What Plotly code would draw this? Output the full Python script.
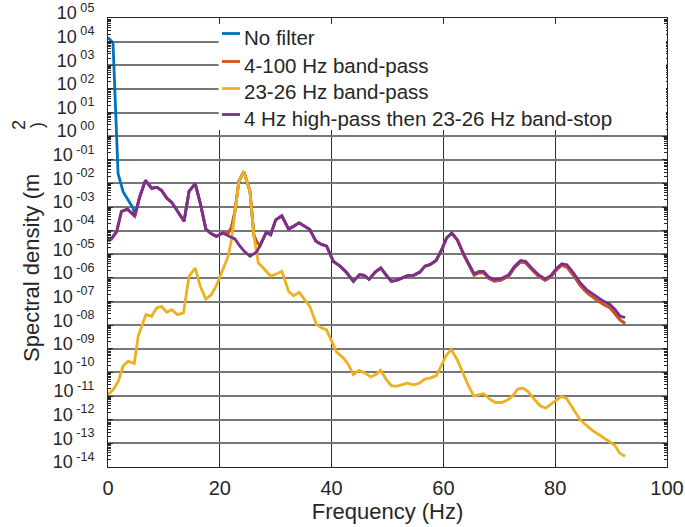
import numpy as np
import plotly.graph_objects as go

# Frequencies (Hz) and log10 spectral density (m^2) for each filter case
freq_none = [0, 0.9, 1.8, 2.7, 3.6, 4.5, 4.8, 5.7, 6.7, 7.8, 8.8, 9.6, 10.5, 11.4, 12.6, 13.6,
             14.5, 15.6, 16.5, 17.5, 18.5, 19.4, 20.5, 21.5, 22.1, 22.7, 23.4, 24.3, 25.4, 26.1,
             26.6, 27.2, 28.3, 29.1, 30.0, 31.1, 32.3, 33.2, 34.2, 35.2, 36.1, 37.2, 38.2, 39.1,
             40.3, 41.5, 42.6, 43.9, 45.0, 45.8, 46.7, 47.8, 48.8, 49.9, 50.7, 51.6, 52.8, 53.7,
             54.7, 55.8, 56.7, 57.6, 58.7, 59.7, 60.6, 61.5, 62.5, 63.7, 65.5, 66.4, 67.2, 68.1,
             69.1, 70.2, 71.7, 72.7, 73.8, 74.7, 75.8, 77.0, 78.2, 79.2, 80.3, 81.2, 82.1, 83.3,
             84.5, 85.6, 87.1, 88.6, 89.8, 90.7, 91.6, 92.5]
log_none = [4.18, 3.94, -1.58, -2.35, -2.7, -3.05, -3.34, -2.55, -1.87, -2.2, -2.17, -2.3, -2.62,
            -2.8, -3.23, -3.6, -2.34, -2.01, -2.83, -3.93, -4.13, -4.24, -4.1, -4.1, -3.85, -3.2,
            -1.92, -1.49, -2.34, -4.2, -4.47, -4.63, -4.07, -4.17, -3.54, -3.37, -3.93, -3.82,
            -3.67, -3.82, -3.95, -4.45, -4.58, -4.65, -5.3, -5.5, -5.75, -6.14, -5.86, -5.89,
            -6.06, -5.75, -5.58, -5.92, -6.14, -6.1, -5.96, -5.89, -5.89, -5.75, -5.5, -5.44,
            -5.26, -4.8, -4.3, -4.1, -4.4, -5.06, -5.88, -5.78, -5.78, -6.02, -6.13, -6.1, -5.92,
            -5.57, -5.32, -5.36, -5.64, -5.92, -6.1, -5.96, -5.64, -5.46, -5.54, -5.9, -6.32,
            -6.6, -6.88, -7.12, -7.26, -7.5, -7.78, -7.92]

freq_bp = [0, 0.65, 1.55, 2.4, 3.5, 4.8, 5.7, 6.7, 7.8, 8.8, 9.6, 10.5, 11.4, 12.6, 13.6, 14.5,
           15.6, 16.5, 17.5, 18.5, 19.4, 20.5, 21.5, 22.1, 22.7, 23.4, 24.3, 25.4, 26.1, 26.6,
           27.2, 28.3, 29.1, 30.0, 31.1, 32.3, 33.2, 34.2, 35.2, 36.1, 37.2, 38.2, 39.1, 40.3,
           41.5, 42.6, 43.9, 45.0, 45.8, 46.7, 47.8, 48.8, 49.9, 50.7, 51.6, 52.8, 53.7, 54.7,
           55.8, 56.7, 57.6, 58.7, 59.7, 60.6, 61.5, 62.5, 63.7, 65.5, 66.4, 67.2, 68.1, 69.1,
           70.2, 71.7, 72.7, 73.8, 74.7, 75.8, 77.0, 78.2, 79.2, 80.3, 81.2, 82.1, 83.3, 84.5,
           85.6, 87.1, 88.6, 89.8, 90.7, 91.6, 92.5]
log_bp = [-4.45, -4.36, -4.06, -3.2, -3.1, -3.39, -2.55, -1.87, -2.2, -2.17, -2.3, -2.62, -2.8,
          -3.23, -3.6, -2.34, -2.01, -2.83, -3.93, -4.13, -4.24, -4.1, -4.1, -3.85, -3.2, -1.92,
          -1.49, -2.34, -4.2, -4.47, -4.63, -4.07, -4.17, -3.54, -3.37, -3.93, -3.82, -3.67,
          -3.82, -3.95, -4.45, -4.58, -4.65, -5.3, -5.5, -5.75, -6.14, -5.86, -5.89, -6.06,
          -5.75, -5.58, -5.92, -6.14, -6.1, -5.96, -5.89, -5.89, -5.75, -5.5, -5.44, -5.26,
          -4.8, -4.3, -4.1, -4.4, -5.06, -5.88, -5.78, -5.78, -6.02, -6.13, -6.1, -5.92, -5.57,
          -5.32, -5.36, -5.64, -5.92, -6.1, -5.96, -5.64, -5.46, -5.54, -5.9, -6.32, -6.6,
          -6.88, -7.12, -7.26, -7.5, -7.78, -7.92]

freq_narrow = [0, 0.95, 1.85, 2.7, 3.6, 4.7, 5.4, 6.3, 6.8, 7.8, 8.7, 9.6, 10.5, 11.4, 12.4, 13.5,
               14.5, 15.6, 16.5, 17.5, 18.5, 19.4, 20.5, 21.5, 22.1, 22.7, 23.4, 24.3, 25.4, 26.1,
               26.9, 27.8, 29.1, 30.2, 31.1, 32.3, 33.2, 34.2, 35.2, 36.1, 37.3, 38.2, 39.1, 40.0,
               40.9, 42.1, 43.0, 43.9, 44.9, 45.95, 47.0, 47.9, 48.75, 49.8, 50.7, 51.6, 52.7,
               53.5, 54.6, 55.7, 56.7, 57.7, 58.75, 59.6, 60.5, 61.4, 62.4, 63.5, 64.4, 65.4, 66.4,
               67.2, 68.3, 69.3, 70.4, 71.4, 72.4, 73.3, 74.2, 75.1, 76.1, 77.3, 78.3, 79.3, 80.3,
               81.1, 82.0, 83.2, 84.4, 85.5, 86.7, 88.2, 89.7, 90.6, 91.5, 92.5]
log_narrow = [-10.93, -10.72, -10.37, -9.73, -9.52, -9.62, -8.46, -7.9, -7.55, -7.62, -7.27, -7.2,
              -7.45, -7.34, -7.55, -7.48, -5.93, -5.58, -6.35, -6.89, -6.7, -6.32, -5.65, -5.08,
              -4.38, -3.25, -1.92, -1.49, -2.34, -4.24, -5.37, -5.58, -5.93, -5.82, -5.72, -6.56,
              -6.75, -6.61, -6.92, -7.2, -7.97, -8.11, -8.2, -8.67, -9.14, -9.38, -9.67, -10.09,
              -9.91, -10.02, -10.19, -10.09, -9.91, -10.3, -10.56, -10.59, -10.52, -10.45,
              -10.52, -10.45, -10.28, -10.23, -10.13, -9.74, -9.28, -9.03, -9.43, -10.02, -10.52,
              -10.99, -10.94, -10.9, -11.13, -11.27, -11.27, -11.18, -10.99, -10.7, -10.66, -10.8,
              -11.09, -11.41, -11.51, -11.33, -11.13, -11.01, -11.09, -11.55, -11.98, -12.22,
              -12.46, -12.69, -12.93, -13.07, -13.4, -13.55]

freq_stop = freq_bp
log_stop = [-4.38, -4.31, -4.03, -3.18, -3.08, -3.39, -2.55, -1.87, -2.2, -2.17, -2.3, -2.62,
            -2.8, -3.23, -3.6, -2.34, -2.01, -2.83, -3.93, -4.13, -4.24, -4.1, -4.21, -4.28,
            -4.35, -4.59, -4.85, -5.08, -4.98, -4.9, -4.63, -4.07, -4.17, -3.54, -3.37, -3.93,
            -3.82, -3.67, -3.82, -3.95, -4.45, -4.58, -4.65, -5.3, -5.5, -5.75, -6.14, -5.86,
            -5.89, -6.06, -5.75, -5.58, -5.92, -6.14, -6.1, -5.96, -5.89, -5.89, -5.75, -5.5,
            -5.44, -5.26, -4.8, -4.3, -4.1, -4.38, -5.02, -5.82, -5.72, -5.72, -5.96, -6.07,
            -6.04, -5.86, -5.51, -5.26, -5.3, -5.58, -5.86, -6.04, -5.9, -5.58, -5.4, -5.44,
            -5.79, -6.21, -6.49, -6.74, -6.98, -7.12, -7.33, -7.61, -7.68]

series_names = ["No filter", "4-100 Hz band-pass", "23-26 Hz band-pass",
                "4 Hz high-pass then 23-26 Hz band-stop"]
series_colors = ["#0072BD", "#D95319", "#EDB120", "#7E2F8E"]
series_freq = [freq_none, freq_bp, freq_narrow, freq_stop]
series_log = [log_none, log_bp, log_narrow, log_stop]

decades = list(range(-14, 6))
tick_text = ["10<sup>&nbsp;" + (f"{k:02d}" if k >= 0 else f"-{abs(k):02d}") + "</sup>"
             for k in decades]
x_ticks = [0, 20, 40, 60, 80, 100]

FONT = "Liberation Sans, Arial, Helvetica, sans-serif"
INK = "#262626"

# plot-area geometry in pixels, used to place the key and the axis title pieces
W, H = 685, 527
ML, MR, MT, MB = 108, 18, 18, 60
PW, PH = W - ML - MR, H - MT - MB


def px_x(p):
    return (p - ML) / PW


def px_y(p):
    return (H - MB - p) / PH


fig = go.Figure()
for name, color, f, lg in zip(series_names, series_colors, series_freq, series_log):
    fig.add_trace(go.Scatter(
        x=f, y=np.power(10.0, np.array(lg)), mode="lines", name=name,
        line=dict(color=color, width=2.8), showlegend=False,
    ))

# white panel behind the key that hides the grid in the upper right
fig.add_shape(type="rect", xref="paper", yref="paper", x0=px_x(218.6), x1=px_x(666),
              y0=px_y(130), y1=px_y(24), fillcolor="#ffffff",
              line=dict(color="rgba(0,0,0,0)", width=0), layer="above", opacity=1)

# key: short coloured line plus label for each series
key_rows = [37, 65, 92, 118]
for name, color, row in zip(series_names, series_colors, key_rows):
    fig.add_shape(type="line", xref="paper", yref="paper",
                  x0=px_x(222), x1=px_x(240), y0=px_y(row - 3.5), y1=px_y(row - 3.5),
                  line=dict(color=color, width=2.8), layer="above")
    fig.add_annotation(text=name, xref="paper", yref="paper", x=px_x(242), y=px_y(row),
                       xanchor="left", yanchor="middle", showarrow=False,
                       font=dict(size=20.5, color=INK, family=FONT))

# y-axis title, with the squared unit set the way it is typeset in the figure
fig.add_annotation(text="Spectral density (m", xref="paper", yref="paper",
                   x=px_x(31), y=px_y(268), xanchor="center", yanchor="middle",
                   textangle=-90, showarrow=False, font=dict(size=22, color=INK, family=FONT))
fig.add_annotation(text="2", xref="paper", yref="paper", x=px_x(19), y=px_y(125),
                   xanchor="center", yanchor="middle", textangle=-90, showarrow=False,
                   font=dict(size=18, color=INK, family=FONT))
fig.add_annotation(text=")", xref="paper", yref="paper", x=px_x(37), y=px_y(125),
                   xanchor="center", yanchor="middle", textangle=-90, showarrow=False,
                   font=dict(size=18, color=INK, family=FONT))

fig.update_layout(
    width=W, height=H,
    margin=dict(l=ML, r=MR, t=MT, b=MB),
    paper_bgcolor="white", plot_bgcolor="white",
    font=dict(family=FONT, color=INK, size=19),
    showlegend=False,
)

fig.update_xaxes(
    range=[0, 100], tickvals=x_ticks, ticks="inside", ticklen=5, tickcolor=INK,
    showline=True, linecolor=INK, linewidth=1, mirror="ticks", automargin=False,
    showgrid=True, gridcolor="#303030", gridwidth=1, zeroline=False,
    tickfont=dict(size=20), ticklabelstandoff=3,
    title=dict(text="Frequency (Hz)", font=dict(size=22), standoff=2),
)
fig.update_yaxes(
    type="log", range=[-14, 5], tickvals=[10.0 ** k for k in decades], ticktext=tick_text,
    ticks="inside", ticklen=5, tickcolor=INK, automargin=False,
    showline=True, linecolor=INK, linewidth=1, mirror="ticks",
    showgrid=True, gridcolor="#777777", gridwidth=2, zeroline=False,
    minor=dict(ticks="inside", ticklen=3, tickcolor=INK, dtick="D1", showgrid=False),
    tickfont=dict(size=18), ticklabelshift=-5, ticklabelstandoff=9,
)

fig.write_html("out.html")
